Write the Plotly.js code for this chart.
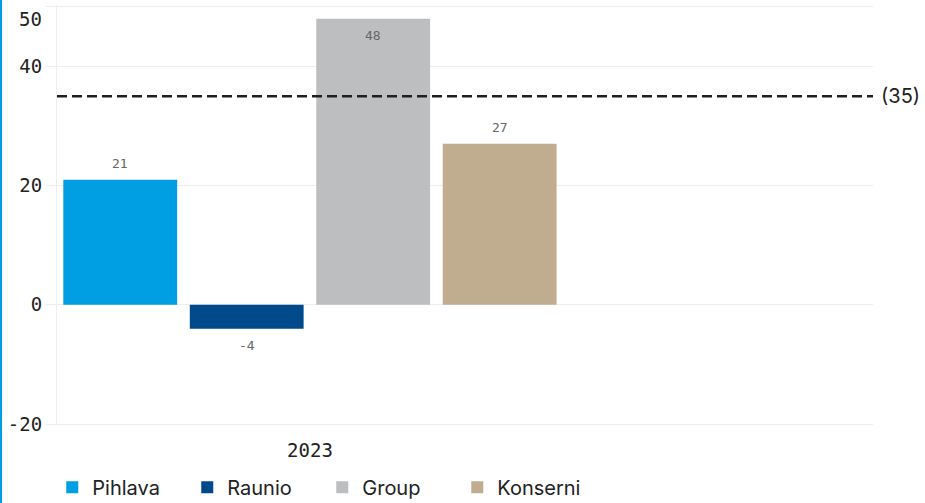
<!DOCTYPE html>
<html>
<head>
<meta charset="utf-8">
<script src="https://cdn.plot.ly/plotly-3.0.1.min.js"></script>
<style>
html,body{margin:0;padding:0;background:#fff;}
#wrap{position:relative;width:925px;height:503px;}
#edge{position:absolute;left:0;top:0;width:2px;height:503px;background:#009fe3;z-index:5;}
#chart{width:925px;height:503px;}
</style>
</head>
<body>
<div id="wrap"><div id="edge"></div><div id="chart"></div></div>
<script>
const category = "2023";
const seriesNames = ["Pihlava", "Raunio", "Group", "Konserni"];
const seriesValues = [21, -4, 48, 27];
const seriesColors = ["#009fe3", "#004a8b", "#bdbec0", "#c0ad8f"];
const referenceValue = 35;
const referenceLabel = "(35)";
const yTickVals = [-20, 0, 20, 40, 50];
const yTickText = ["-20", "0", "20", "40", "50"];

const mono = "DejaVu Sans Mono, monospace";
const sans = "Inter, Roboto, sans-serif";
const tickFont = {family: mono, size: 19, color: "#222"};

const traces = seriesNames.map((name, i) => ({
  type: "bar",
  name: name,
  x: [category],
  y: [seriesValues[i]],
  marker: {color: seriesColors[i]},
  hoverinfo: "skip"
}));

// value labels as annotations (one per series)
const nBars = seriesNames.length;
const barGroupWidth = 1.0;
const annotations = seriesValues.map((v, i) => {
  const offset = -barGroupWidth / 2 + (i + 0.5) * barGroupWidth / nBars;
  const inside = v > 45;
  const neg = v < 0;
  return {
    xref: "x", yref: "y",
    x: offset, y: v,
    text: String(v),
    showarrow: false,
    font: {family: mono, size: 13, color: "#666666"},
    yanchor: (inside || neg) ? "top" : "bottom",
    yshift: (inside || neg) ? -7 : 7
  };
});
annotations.push({
  xref: "paper", yref: "y",
  x: 1, y: referenceValue,
  xanchor: "left", xshift: 6,
  text: referenceLabel,
  showarrow: false,
  font: {family: sans, size: 20, color: "#222"}
});
// top tick label is nudged down inside the chart (as in the reference)
const lastIdx = yTickVals.length - 1;
annotations.push({
  xref: "paper", yref: "y",
  x: 0, y: yTickVals[lastIdx],
  xanchor: "right", yanchor: "middle",
  xshift: -13, yshift: -12,
  text: yTickText[lastIdx],
  showarrow: false,
  font: tickFont
});
const axisTickText = yTickText.map((t, i) => (i === lastIdx ? "" : t));

const layout = {
  width: 925, height: 503,
  margin: {l: 57, r: 52, t: 5, b: 79},
  paper_bgcolor: "#fff", plot_bgcolor: "#fff",
  barmode: "group",
  bargap: 0.0,
  bargroupgap: 0.1,
  showlegend: true,
  legend: {
    orientation: "h",
    xref: "container", yref: "container",
    x: 0.0565, xanchor: "left",
    y: 0.07, yanchor: "top",
    entrywidth: 90, entrywidthmode: "pixels",
    font: {family: sans, size: 20, color: "#222"},
    itemclick: false, itemdoubleclick: false
  },
  xaxis: {
    type: "category",
    range: [-0.5, 1.113],
    showgrid: false,
    zeroline: false,
    showline: true, linecolor: "#eeeeee", linewidth: 1,
    side: "bottom",
    tickfont: tickFont,
    ticks: "outside", ticklen: 9, tickcolor: "rgba(0,0,0,0)",
    automargin: false
  },
  yaxis: {
    range: [-20, 50.3],
    tickvals: yTickVals,
    ticktext: axisTickText,
    ticklabeloverflow: "allow",
    showgrid: true, gridcolor: "#eeeeee", gridwidth: 1,
    zeroline: false,
    showline: true, linecolor: "#eeeeee", linewidth: 1,
    ticks: "outside", ticklen: 10, tickcolor: "#eeeeee",
    tickfont: tickFont,
    automargin: false
  },
  shapes: [{
    type: "line", xref: "paper", yref: "y",
    x0: 0, x1: 1, y0: referenceValue, y1: referenceValue,
    line: {color: "#1f1f1f", width: 2.5, dash: "10px,5px"}
  }],
  annotations: annotations
};

Plotly.newPlot("chart", traces, layout, {displayModeBar: false, staticPlot: true});
</script>
</body>
</html>
